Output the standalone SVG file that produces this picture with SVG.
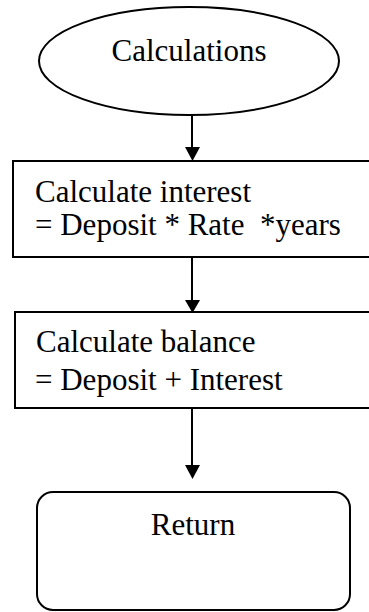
<svg xmlns="http://www.w3.org/2000/svg" width="369" height="612" viewBox="0 0 369 612">
<style>
.s{fill:#fff;stroke:#000;stroke-width:2}
.t{font-family:"Liberation Serif","Times New Roman",serif;font-size:31px;fill:#000;white-space:pre}
.c{stroke:#000;stroke-width:2;fill:none}
.h{fill:#000}
</style>
<rect width="369" height="612" fill="#fff"/>
<g id="connectors">
<path class="c" d="M192,115 V147"/>
<path class="h" d="M185,147 L200,147 L192.5,161 Z"/>
<path class="c" d="M192,258 V300"/>
<path class="h" d="M185,300 L200,300 L192.5,313 Z"/>
<path class="c" d="M192,409 V465"/>
<path class="h" d="M185,465 L200,465 L192.5,479 Z"/>
</g>
<g id="start">
<ellipse class="s" cx="189" cy="61" rx="150" ry="54"/>
<text class="t" x="189" y="61" text-anchor="middle">Calculations</text>
</g>
<g id="interest">
<rect class="s" x="13" y="161" width="370" height="96"/>
<text class="t" x="35" y="202">Calculate interest</text>
<text class="t" x="35" y="235">= Deposit * Rate  *years</text>
</g>
<g id="balance">
<rect class="s" x="15" y="312" width="370" height="96"/>
<text class="t" x="36" y="352">Calculate balance</text>
<text class="t" x="35" y="390">= Deposit + Interest</text>
</g>
<g id="return">
<rect class="s" x="37" y="492" width="313" height="118" rx="16" ry="16"/>
<text class="t" x="193" y="535" text-anchor="middle">Return</text>
</g>
</svg>
